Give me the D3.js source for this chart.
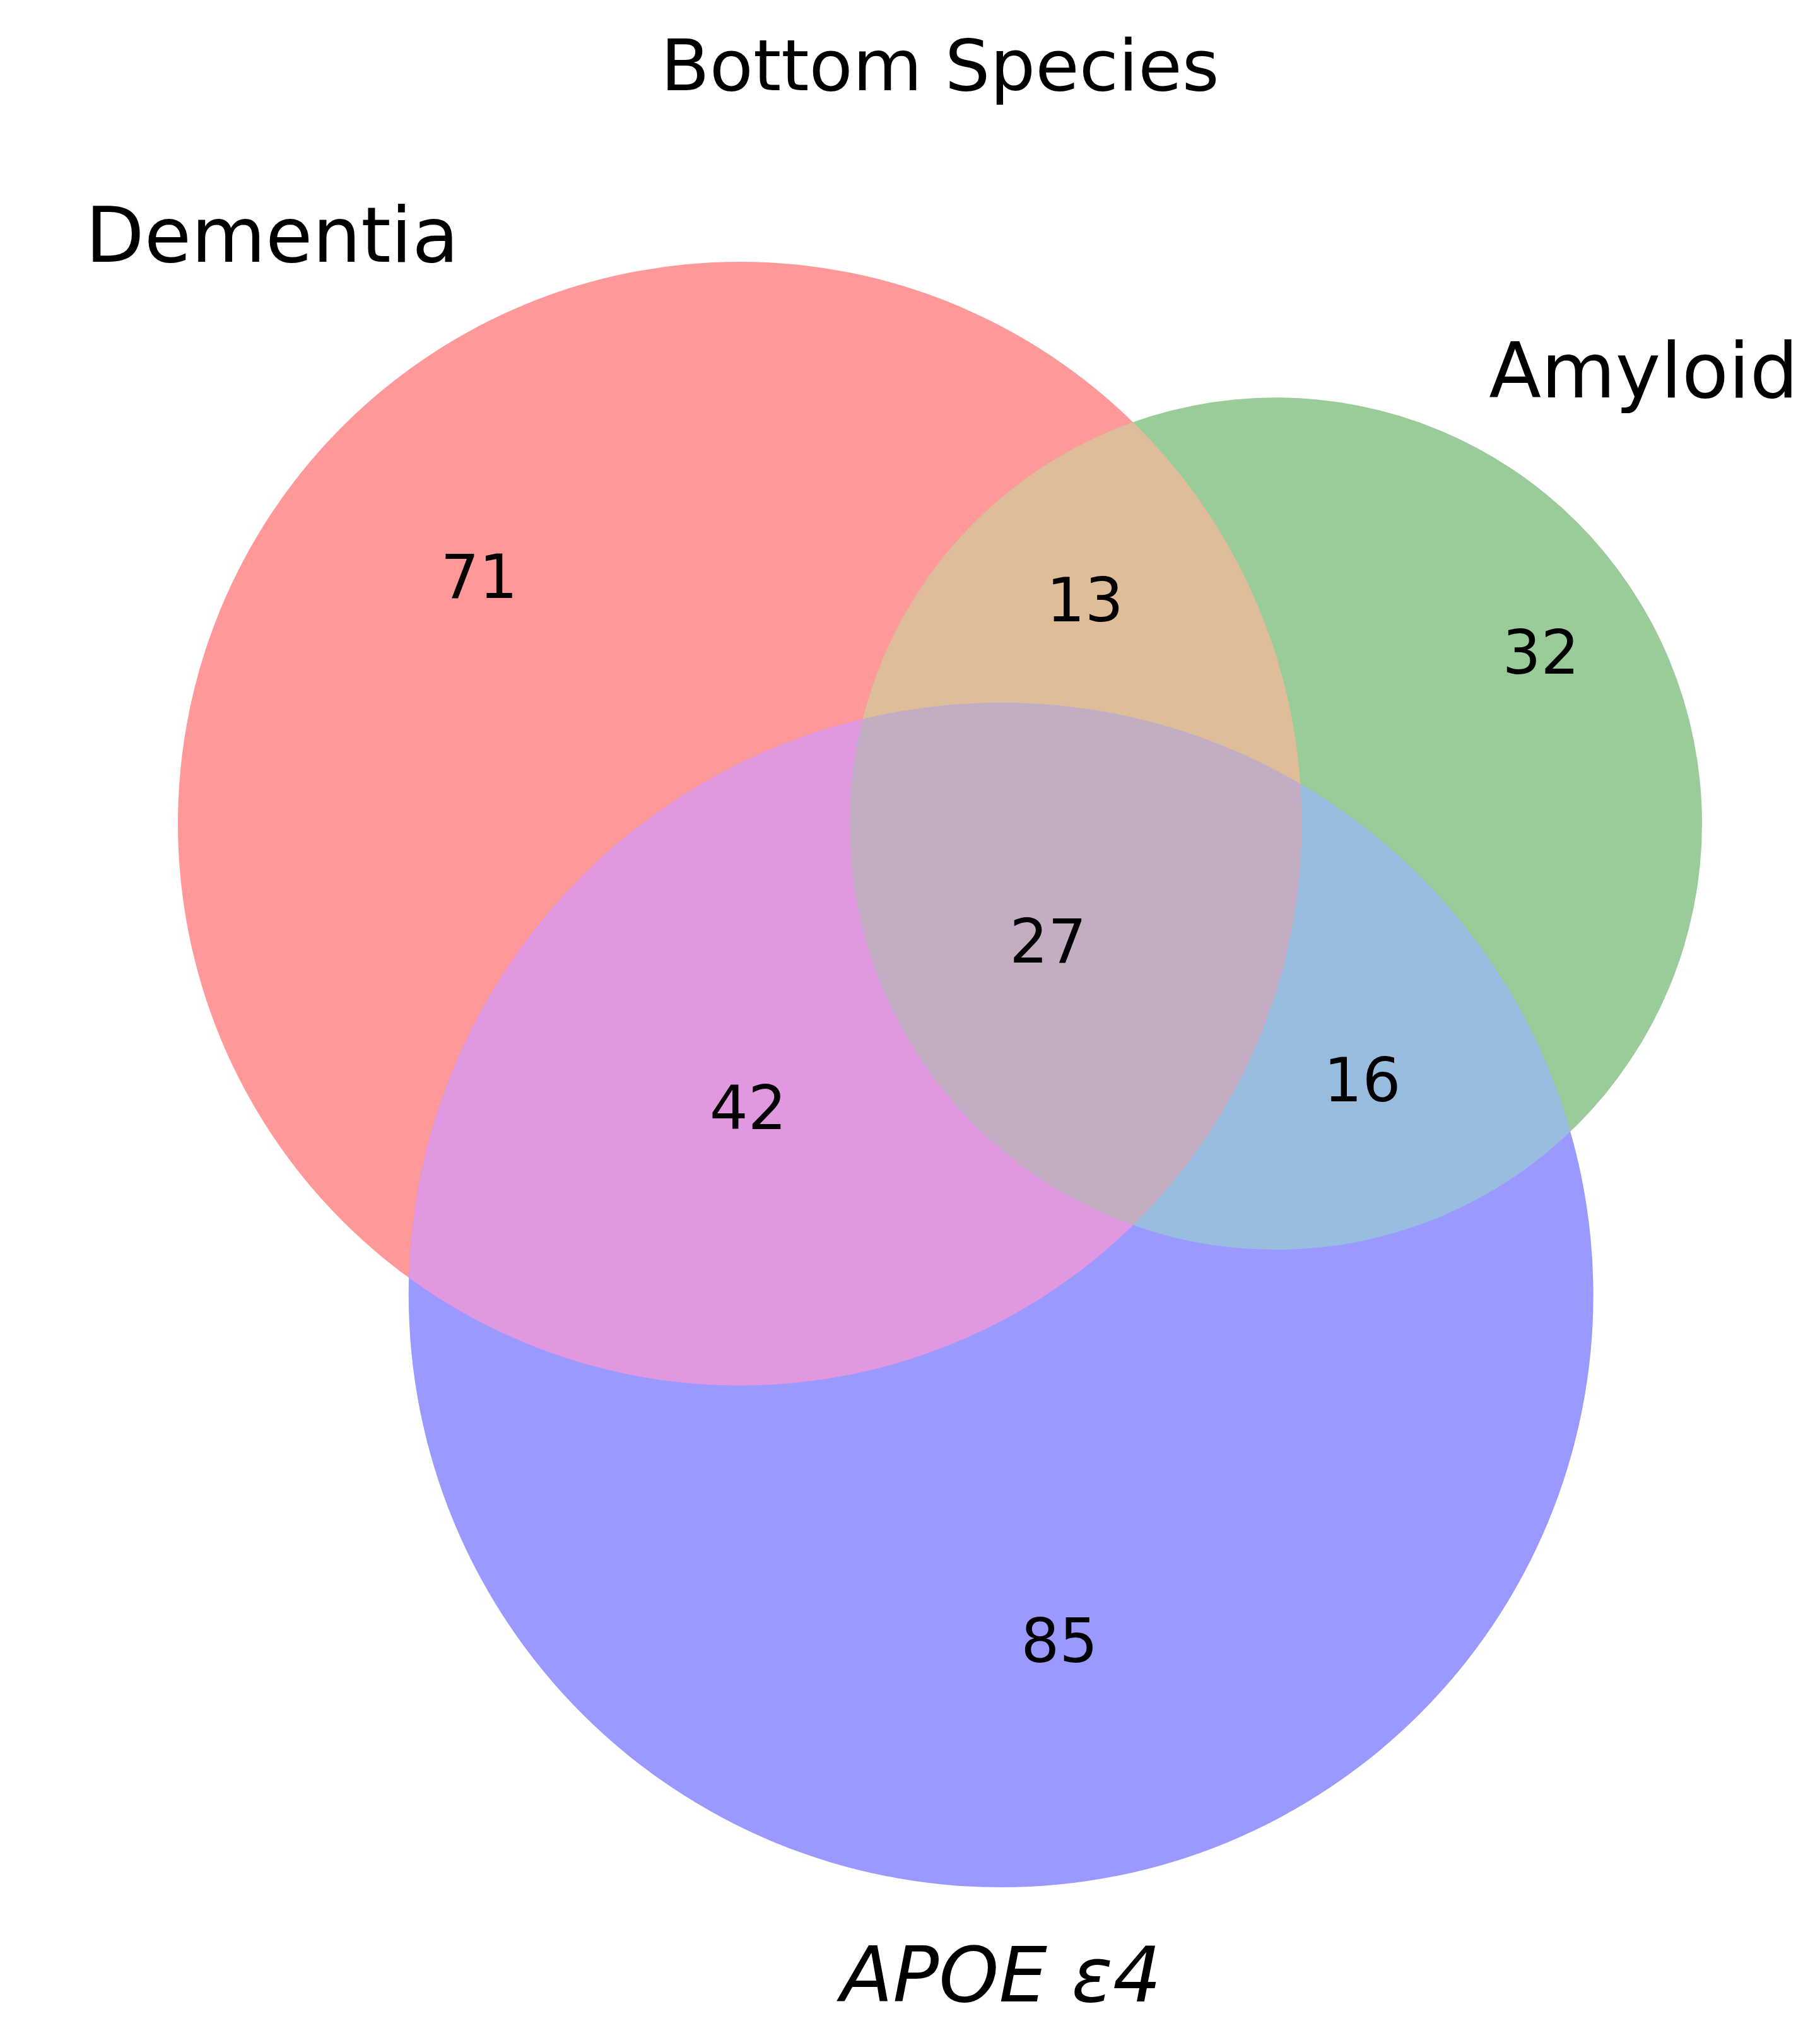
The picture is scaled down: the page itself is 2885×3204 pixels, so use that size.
<!DOCTYPE html>
<html>
<head>
<meta charset="utf-8">
<script src="https://cdn.jsdelivr.net/npm/d3@7"></script>
<style>
  html, body { margin: 0; padding: 0; background: #fff; }
  svg { display: block; font-family: "DejaVu Sans", sans-serif; }
</style>
</head>
<body>
<div id="chart"></div>
<script>
// Three-set Venn diagram (matplotlib-venn style) drawn with D3
const chartTitle = "Bottom Species";
const setLabels = ["Dementia", "Amyloid", "APOE ε4"];
const setColors = ["#ff0000", "#008000", "#0000ff"];

// subset ids in venn3 order: A only, B only, AB, C only, AC, BC, ABC
const regionIds = ["100", "010", "110", "001", "101", "011", "111"];
const regionCounts = [71, 32, 13, 85, 42, 16, 27];

const width = 2885;
const height = 3204;
const plotLeft = 282;
const plotRight = 2698;
const plotTop = 415;
const fillAlpha = 0.4;

// --- geometry helpers ---
function lensArea(r1, r2, d) {
    if (d >= r1 + r2) return 0;
    if (d <= Math.abs(r1 - r2)) return Math.PI * Math.min(r1, r2) ** 2;
    const a1 = r1 * r1 * Math.acos((d * d + r1 * r1 - r2 * r2) / (2 * d * r1));
    const a2 = r2 * r2 * Math.acos((d * d + r2 * r2 - r1 * r1) / (2 * d * r2));
    const k = 0.5 * Math.sqrt((-d + r1 + r2) * (d + r1 - r2) * (d - r1 + r2) * (d + r1 + r2));
    return a1 + a2 - k;
}

function solveDistance(r1, r2, target) {
    let lo = Math.abs(r1 - r2);
    let hi = r1 + r2;
    for (let k = 0; k < 200; k++) {
        const mid = (lo + hi) / 2;
        if (lensArea(r1, r2, mid) > target) lo = mid; else hi = mid;
    }
    return (lo + hi) / 2;
}

function countWhere(test) {
    return d3.sum(regionIds, (id, i) => test(id) ? regionCounts[i] : 0);
}

// set sizes and pairwise overlaps
const setSizes = [0, 1, 2].map(i => countWhere(id => id[i] === "1"));
const pairSize = (i, j) => countWhere(id => id[i] === "1" && id[j] === "1");
const radii = setSizes.map(s => Math.sqrt(s / Math.PI));

const dAB = solveDistance(radii[0], radii[1], pairSize(0, 1));
const dAC = solveDistance(radii[0], radii[2], pairSize(0, 2));
const dBC = solveDistance(radii[1], radii[2], pairSize(1, 2));

// A at origin, B to the right, C below (screen y grows downward)
const cX = (dAB * dAB + dAC * dAC - dBC * dBC) / (2 * dAB);
const cY = Math.sqrt(Math.max(0, dAC * dAC - cX * cX));
const centers = [[0, 0], [dAB, 0], [cX, cY]];

const xMin = d3.min(centers, (c, i) => c[0] - radii[i]);
const xMax = d3.max(centers, (c, i) => c[0] + radii[i]);
const yMin = d3.min(centers, (c, i) => c[1] - radii[i]);
const yMax = d3.max(centers, (c, i) => c[1] + radii[i]);
const pxPerUnit = (plotRight - plotLeft) / (xMax - xMin);

const xScale = d3.scaleLinear().domain([xMin, xMax]).range([plotLeft, plotRight]);
const yScale = d3.scaleLinear().domain([yMin, yMax]).range([plotTop, plotTop + pxPerUnit * (yMax - yMin)]);
const rScale = d3.scaleLinear().domain([0, 1]).range([0, pxPerUnit]);

// region colour: mixed set colours, then alpha over white
function regionColor(id) {
    const members = [0, 1, 2].filter(i => id[i] === "1");
    const cols = members.map(i => d3.rgb(setColors[i]));
    const f = members.length === 1 ? 1 : (members.length === 2 ? 0.7 : 0.4);
    const mix = ch => Math.min(255, f * d3.sum(cols, c => c[ch]));
    const blend = v => 255 * (1 - fillAlpha) + fillAlpha * v;
    return d3.rgb(blend(mix("r")), blend(mix("g")), blend(mix("b"))).formatHex();
}

// label position: mean of the boundary arc midpoints, weighted by arc angle
function regionLabelPos(id) {
    const inSet = id.split("").map(c => c === "1");
    const N = 7200;
    let sx = 0, sy = 0, total = 0;
    for (let i = 0; i < 3; i++) {
        const ok = [];
        for (let k = 0; k < N; k++) {
            const t = 2 * Math.PI * k / N;
            const px = centers[i][0] + radii[i] * Math.cos(t);
            const py = centers[i][1] + radii[i] * Math.sin(t);
            let good = true;
            for (let j = 0; j < 3; j++) {
                if (j === i) continue;
                const inside = Math.hypot(px - centers[j][0], py - centers[j][1]) < radii[j];
                if (inside !== inSet[j]) { good = false; break; }
            }
            ok.push(good);
        }
        const start = ok.indexOf(false);
        if (start < 0) {
            sx += 2 * Math.PI * centers[i][0];
            sy += 2 * Math.PI * centers[i][1];
            total += 2 * Math.PI;
            continue;
        }
        let begin = -1;
        for (let s = 1; s <= N; s++) {
            const idx = (start + s) % N;
            if (ok[idx] && begin < 0) begin = start + s;
            if (!ok[idx] && begin >= 0) {
                const end = start + s - 1;
                const midT = (begin + end) / 2 * 2 * Math.PI / N;
                const span = (end - begin + 1) * 2 * Math.PI / N;
                sx += span * (centers[i][0] + radii[i] * Math.cos(midT));
                sy += span * (centers[i][1] + radii[i] * Math.sin(midT));
                total += span;
                begin = -1;
            }
        }
    }
    return [sx / total, sy / total];
}

// --- drawing ---
const svg = d3.select("#chart")
    .append("svg")
    .attr("width", width)
    .attr("height", height);

svg.append("rect")
    .attr("width", width)
    .attr("height", height)
    .attr("fill", "#ffffff");

const defs = svg.append("defs");
defs.selectAll("clipPath")
    .data(centers)
    .join("clipPath")
    .attr("id", (d, i) => "clip-" + i)
    .append("circle")
    .attr("cx", d => xScale(d[0]))
    .attr("cy", d => yScale(d[1]))
    .attr("r", (d, i) => rScale(radii[i]));

// paint single sets first, then pairs, then the triple overlap
const paintOrder = regionIds.slice().sort((a, b) =>
    a.split("1").length - b.split("1").length);

const regionG = svg.append("g").attr("class", "regions");
paintOrder.forEach(id => {
    const members = [0, 1, 2].filter(i => id[i] === "1");
    let g = regionG;
    members.slice(1).forEach(m => {
        g = g.append("g").attr("clip-path", `url(#clip-${m})`);
    });
    const base = members[0];
    g.append("circle")
        .attr("cx", xScale(centers[base][0]))
        .attr("cy", yScale(centers[base][1]))
        .attr("r", rScale(radii[base]))
        .attr("fill", regionColor(id));
});

// subset counts
const numberSize = 96;
const labelPos = regionIds.map(regionLabelPos);
svg.append("g")
    .selectAll("text")
    .data(regionIds)
    .join("text")
    .attr("x", (id, i) => xScale(labelPos[i][0]))
    .attr("y", (id, i) => yScale(labelPos[i][1]))
    .attr("dy", "0.262em")
    .attr("text-anchor", "middle")
    .style("font-size", numberSize + "px")
    .style("fill", "#000")
    .text((id, i) => regionCounts[i]);

// set labels
const labelSize = 121;
const setLabelG = svg.append("g");
setLabelG.append("text")
    .attr("x", xScale(centers[0][0]) - rScale(radii[0]) / 2)
    .attr("y", yScale(centers[0][1]) - rScale(radii[0]))
    .attr("text-anchor", "end")
    .style("font-size", labelSize + "px")
    .text(setLabels[0]);
setLabelG.append("text")
    .attr("x", xScale(centers[1][0]) + rScale(radii[1]) / 2)
    .attr("y", yScale(centers[1][1]) - rScale(radii[1]))
    .attr("text-anchor", "start")
    .style("font-size", labelSize + "px")
    .text(setLabels[1]);
setLabelG.append("text")
    .attr("x", xScale(centers[2][0]))
    .attr("y", yScale(centers[2][1]) + rScale(radii[2]) * 1.1)
    .attr("dy", "0.72em")
    .attr("text-anchor", "middle")
    .style("font-size", labelSize + "px")
    .style("font-style", "italic")
    .text(setLabels[2]);

// title
svg.append("text")
    .attr("x", (plotLeft + plotRight) / 2)
    .attr("y", 143)
    .attr("text-anchor", "middle")
    .style("font-size", "113px")
    .text(chartTitle);
</script>
</body>
</html>
